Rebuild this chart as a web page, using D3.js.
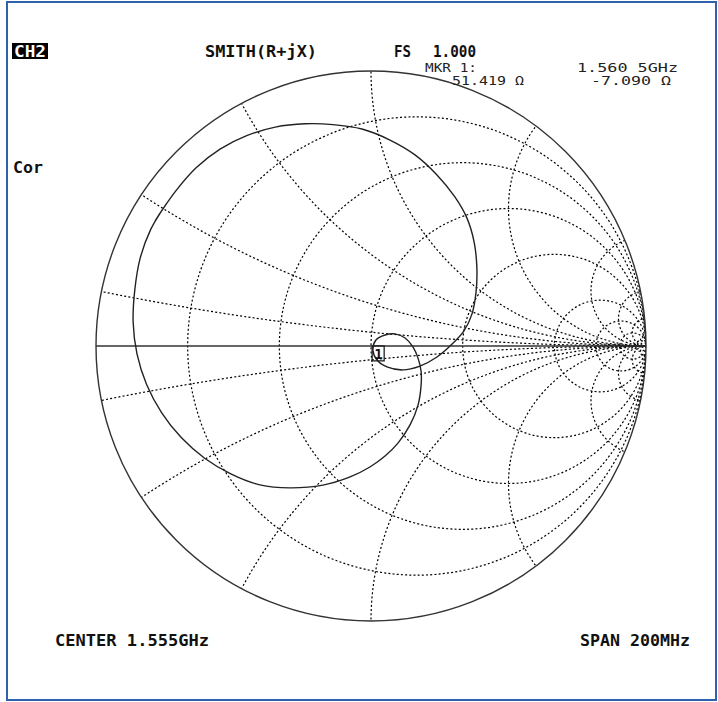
<!DOCTYPE html>
<html>
<head>
<meta charset="utf-8">
<title>CH2 SMITH(R+jX)</title>
<script src="https://d3js.org/d3.v7.min.js"></script>
<style>
  body { margin: 0; background: #fff; }
  svg text { font-family: "DejaVu Sans Mono", "Liberation Mono", monospace; fill: #111; }
  .bold { font-weight: bold; font-size: 16px; }
  .thin { font-size: 12px; fill: #222; }
</style>
</head>
<body>
<svg id="chart" width="718" height="702"></svg>
<script>
// grid values, normalised to Z0
var rCircles = [0.2, 0.5, 1, 2, 5, 10, 20, 50];
var xArcs = [0.1, 0.3, 0.6, 1, 2, 5, 10, 20, 50];

var traceRe = [-0.785,-0.761,-0.709,-0.636,-0.549,-0.452,-0.348,-0.240,-0.138,-0.033,0.069,0.160,0.240,0.305,0.349,0.375,0.385,0.382,0.367,0.338,0.295,0.240,0.178,0.116,0.058,0.022,0.007,0.018,0.051,0.087,0.124,0.153,0.171,0.182,0.182,0.171,0.142,0.098,0.051,-0.004,-0.076,-0.175,-0.295,-0.404,-0.508,-0.605,-0.690,-0.761,-0.816,-0.851,-0.865,-0.859,-0.840,-0.801,-0.761,-0.745];
var traceIm = [0.455,0.492,0.565,0.648,0.716,0.765,0.796,0.808,0.805,0.789,0.749,0.695,0.622,0.542,0.465,0.378,0.284,0.196,0.116,0.055,0.007,-0.040,-0.073,-0.087,-0.076,-0.051,-0.015,0.022,0.040,0.044,0.029,-0.004,-0.044,-0.091,-0.145,-0.215,-0.287,-0.353,-0.400,-0.440,-0.476,-0.506,-0.516,-0.505,-0.466,-0.408,-0.333,-0.243,-0.140,-0.029,0.088,0.203,0.317,0.424,0.492,0.516];

// marker 1
var z0 = 50;
var mkrR = 51.419, mkrX = -7.090;

var cx = 371, cy = 346, rad = 275;
var gx = d3.scaleLinear().domain([-1, 1]).range([cx - rad, cx + rad]);
var gy = d3.scaleLinear().domain([-1, 1]).range([cy + rad, cy - rad]);
var len = function(v) { return gx(v) - gx(0); };

var svg = d3.select("#chart");

// window frame
svg.append("rect")
  .attr("x", 7).attr("y", 2).attr("width", 709).attr("height", 698)
  .attr("fill", "none").attr("stroke", "#2f62ad").attr("stroke-width", 2);

svg.append("clipPath").attr("id", "unit")
  .append("circle").attr("cx", gx(0)).attr("cy", gy(0)).attr("r", len(1));

var grid = svg.append("g")
  .attr("clip-path", "url(#unit)")
  .attr("fill", "none").attr("stroke", "#000")
  .attr("stroke-width", 1.2).attr("stroke-dasharray", "2,2.2");

// constant resistance circles
grid.selectAll(".rc").data(rCircles).enter().append("circle")
  .attr("cx", function(r) { return gx(r / (1 + r)); })
  .attr("cy", gy(0))
  .attr("r", function(r) { return len(1 / (1 + r)); });

// constant reactance arcs, both signs
var xs = [];
xArcs.forEach(function(x) { xs.push(x); xs.push(-x); });
grid.selectAll(".xc").data(xs).enter().append("circle")
  .attr("cx", gx(1))
  .attr("cy", function(x) { return gy(1 / x); })
  .attr("r", function(x) { return len(1 / Math.abs(x)); });

// outer circle and real axis
svg.append("circle")
  .attr("cx", gx(0)).attr("cy", gy(0)).attr("r", len(1))
  .attr("fill", "none").attr("stroke", "#333").attr("stroke-width", 1.4);
svg.append("line")
  .attr("x1", gx(-1)).attr("x2", gx(1)).attr("y1", gy(0)).attr("y2", gy(0))
  .attr("stroke", "#333").attr("stroke-width", 1.3);

// trace
var pts = traceRe.map(function(re, i) { return [re, traceIm[i]]; });
var line = d3.line()
  .x(function(d) { return gx(d[0]); })
  .y(function(d) { return gy(d[1]); })
  .curve(d3.curveCatmullRom.alpha(0.5));
svg.append("path")
  .datum(pts)
  .attr("d", line)
  .attr("fill", "none").attr("stroke", "#222").attr("stroke-width", 1.4);

// marker: z -> gamma
var zr = mkrR / z0, zi = mkrX / z0;
var den = (zr + 1) * (zr + 1) + zi * zi;
var mRe = (zr * zr + zi * zi - 1) / den;
var mIm = (2 * zi) / den;
var mx = gx(mRe), my = gy(mIm);
svg.append("rect")
  .attr("x", mx - 4).attr("y", my - 19).attr("width", 12).attr("height", 15)
  .attr("fill", "none").attr("stroke", "#222").attr("stroke-width", 1.3);
svg.append("text").attr("class", "bold").style("font-size", "14px")
  .attr("x", mx - 2).attr("y", my - 6).text("1");

// labels
svg.append("rect").attr("x", 12).attr("y", 43).attr("width", 36).attr("height", 16).attr("fill", "#000");
svg.append("text").attr("class", "bold").attr("x", 14).attr("y", 57)
  .attr("textLength", 32).attr("lengthAdjust", "spacingAndGlyphs")
  .style("fill", "#fff").text("CH2");

function label(txt, x, y, cls, w) {
  var t = svg.append("text").attr("class", cls).attr("x", x).attr("y", y).text(txt);
  if (w) t.attr("textLength", w).attr("lengthAdjust", "spacingAndGlyphs");
  return t;
}
label("SMITH(R+jX)", 205, 57, "bold", 112);
label("FS", 394, 57, "bold", 17);
label("1.000", 433, 57, "bold", 43);
label("MKR  1:", 425, 72, "thin", 52);
label("51.419 Ω", 452, 85, "thin", 72);
label("1.560 5GHz", 577, 72, "thin", 101);
label("-7.090 Ω", 591, 85, "thin", 80);
label("Cor", 13, 173, "bold", 30);
label("CENTER 1.555GHz", 55, 646, "bold", 154);
label("SPAN 200MHz", 580, 646, "bold", 110);
</script>
</body>
</html>
